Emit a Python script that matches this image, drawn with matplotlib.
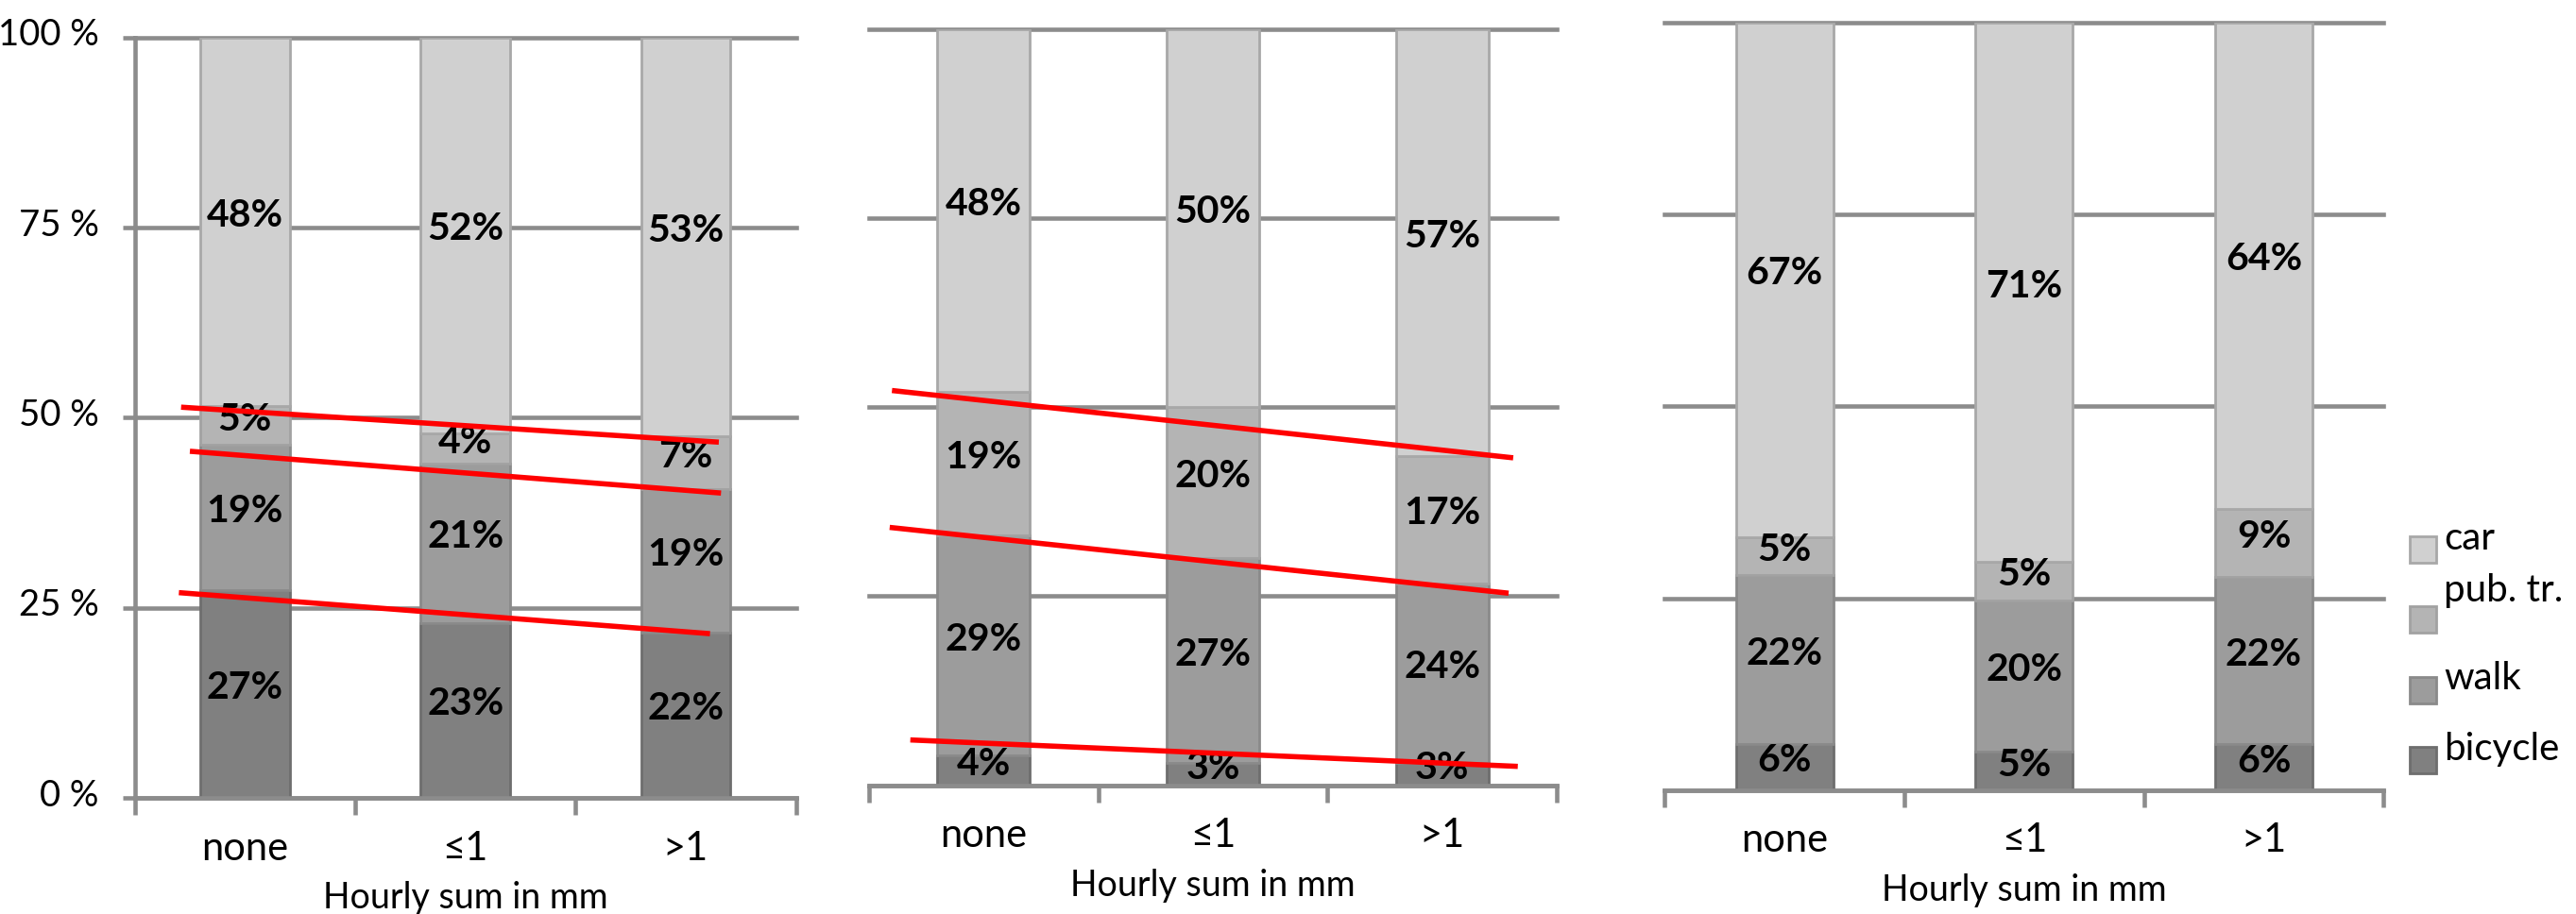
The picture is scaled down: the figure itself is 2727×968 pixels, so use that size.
import numpy as np
import matplotlib.pyplot as plt
import matplotlib.transforms as mtransforms
from matplotlib.patches import Rectangle

plt.rcParams['font.family'] = ['Lato', 'DejaVu Sans']

categories = ['none', '≤1', '>1']
modes = ['bicycle', 'walk', 'pub. tr.', 'car']

# modal split in % per rain class, stacked bottom to top
bicycle_1 = [27, 23, 22]
walk_1 = [19, 21, 19]
pubtr_1 = [5, 4, 7]
car_1 = [48, 52, 53]

bicycle_2 = [4, 3, 3]
walk_2 = [29, 27, 24]
pubtr_2 = [19, 20, 17]
car_2 = [48, 50, 57]

bicycle_3 = [6, 5, 6]
walk_3 = [22, 20, 22]
pubtr_3 = [5, 5, 9]
car_3 = [67, 71, 64]

# red trend lines: (x start, x end, % start, % end)
trend_1 = [(-0.29, 2.15, 51.4, 46.8), (-0.25, 2.16, 45.6, 40.1), (-0.30, 2.11, 27.0, 21.6)]
trend_2 = [(-0.40, 2.31, 52.2, 43.3), (-0.41, 2.29, 34.1, 25.4), (-0.32, 2.33, 6.0, 2.5)]
trend_3 = []

y_ticks = [0, 25, 50, 75, 100]
y_labels = ['0 %', '25 %', '50 %', '75 %', '100 %']

fills = ['#808080', '#9c9c9c', '#b4b4b4', '#d0d0d0']
edges = ['#6e6e6e', '#8a8a8a', '#a2a2a2', '#a8a8a8']
axis_c = '#8c8c8c'

W, H = 2727, 968
fig = plt.figure(figsize=(W / 100, H / 100), dpi=100)


def px_axes(left, top, right, bottom):
    return fig.add_axes([left / W, 1 - bottom / H, (right - left) / W, (bottom - top) / H])


def draw_panel(ax, series, trends, first):
    x = np.arange(len(categories))
    vals = np.array(series, dtype=float)
    shares = vals / vals.sum(axis=0) * 100
    base = np.zeros(len(categories))
    for k in range(len(modes)):
        ax.bar(x, shares[k], 0.405, bottom=base, color=fills[k],
               edgecolor=edges[k], linewidth=2, zorder=2)
        for xi, b, h, v in zip(x, base, shares[k], vals[k]):
            ax.text(xi, b + h / 2 + 0.8, f'{int(v)}%', ha='center', va='center',
                    fontsize=29.5, fontweight='bold', color='black', zorder=4)
        base += shares[k]

    for x0, x1, y0, y1 in trends:
        ax.plot([x0, x1], [y0, y1], color='#ff0000', lw=4, zorder=5,
                solid_capstyle='butt')

    ax.set_xlim(-0.5, len(categories) - 0.5)
    ax.set_ylim(0, 100)
    ax.set_yticks(y_ticks)
    ax.yaxis.grid(True, color=axis_c, lw=3.3)
    for gl in ax.get_ygridlines():
        gl.set_clip_on(False)
    ax.set_axisbelow(True)

    ax.set_xticks(x)
    ax.set_xticklabels(categories, fontsize=30)
    ax.set_xticks(np.arange(len(categories) + 1) - 0.5, minor=True)
    ax.tick_params(axis='x', which='major', length=0, pad=25)
    ax.tick_params(axis='x', which='minor', length=13, width=3.3,
                   color=axis_c, direction='out')
    ax.set_xlabel('Hourly sum in mm', fontsize=27, labelpad=11)

    for side in ['top', 'right']:
        ax.spines[side].set_visible(False)
    ax.spines['bottom'].set_color(axis_c)
    ax.spines['bottom'].set_linewidth(3.3)

    if first:
        ax.spines['left'].set_color(axis_c)
        ax.spines['left'].set_linewidth(3.3)
        ax.set_yticklabels(y_labels, fontsize=27.5)
        ax.tick_params(axis='y', length=9.5, width=3.3, color=axis_c, pad=18)
        shift = mtransforms.ScaledTranslation(0, 6 / 100, fig.dpi_scale_trans)
        for lab in ax.get_yticklabels():
            lab.set_transform(lab.get_transform() + shift)
    else:
        ax.spines['left'].set_visible(False)
        ax.tick_params(axis='y', length=0, labelleft=False)


ax1 = px_axes(142.7, 40, 842.6, 845)
ax2 = px_axes(920, 30.7, 1648, 831.7)
ax3 = px_axes(1762.3, 24, 2523.4, 836.7)

draw_panel(ax1, [bicycle_1, walk_1, pubtr_1, car_1], trend_1, True)
draw_panel(ax2, [bicycle_2, walk_2, pubtr_2, car_2], trend_2, False)
draw_panel(ax3, [bicycle_3, walk_3, pubtr_3, car_3], trend_3, False)

# legend, car on top
box = 28
row_y = [581.7, 656, 730.5, 804.5]
text_dy = [0, -19, 0, 0]
for i, k in enumerate(range(len(modes) - 1, -1, -1)):
    cy = row_y[i]
    fig.add_artist(Rectangle((2551 / W, 1 - (cy + box / 2) / H), box / W, box / H,
                             transform=fig.transFigure, facecolor=fills[k],
                             edgecolor=edges[k], lw=2))
    fig.text(2587 / W, 1 - (cy + text_dy[i]) / H, modes[k], fontsize=29,
             ha='left', va='baseline')

fig.savefig('out.png', dpi=100)
